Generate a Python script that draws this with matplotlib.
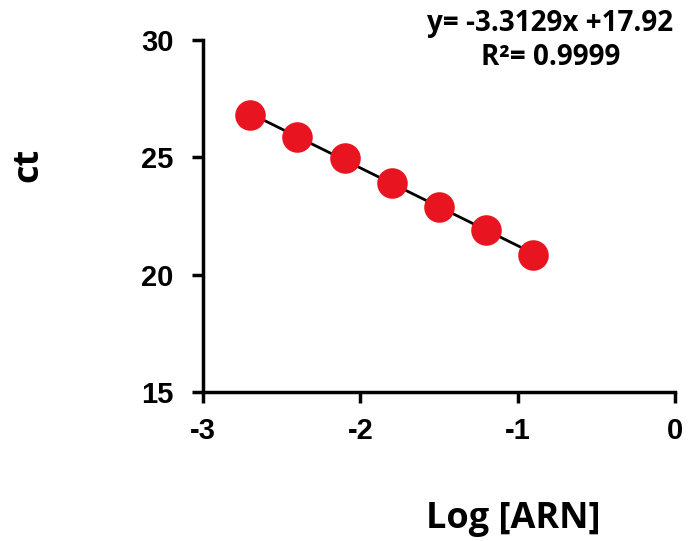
import matplotlib
matplotlib.use('Agg')
import matplotlib.pyplot as plt
import numpy as np

# data
log_arn = [-2.7, -2.4, -2.1, -1.8, -1.5, -1.2, -0.9]
ct = [26.8, 25.85, 24.95, 23.9, 22.9, 21.9, 20.85]
slope = -3.3129
intercept = 17.92
xticks = [-3, -2, -1, 0]
yticks = [15, 20, 25, 30]

fig = plt.figure(figsize=(6.88, 5.41), dpi=100)
ax = fig.add_axes([0.295, 0.2754, 0.686, 0.651])

xs = np.array(log_arn)
ax.plot(xs, slope * xs + intercept, color='black', lw=2, zorder=2)
ax.plot(log_arn, ct, 'o', color='#e8141f', markersize=22, markeredgewidth=0, zorder=3,
        clip_on=False)

ax.set_xlim(-3, 0)
ax.set_ylim(15, 30)
ax.set_xticks(xticks)
ax.set_yticks(yticks)
ax.set_xticklabels([str(t) for t in xticks], fontfamily='Liberation Sans', fontweight='bold', fontsize=21)
ax.set_yticklabels([str(t) for t in yticks], fontfamily='Liberation Sans', fontweight='bold', fontsize=21)
ax.tick_params(width=2.5, length=8)
ax.tick_params(axis='x', pad=10)
ax.tick_params(axis='y', pad=13)

for s in ['top', 'right']:
    ax.spines[s].set_visible(False)
for s in ['left', 'bottom']:
    ax.spines[s].set_linewidth(2.5)

fig.text(0.041, 0.695, 'ct', rotation=90, ha='center', va='center',
         fontfamily='Open Sans', fontweight='bold', fontsize=26)
fig.text(0.746, 0.04, 'Log [ARN]', ha='center', va='center',
         fontfamily='Open Sans', fontweight='bold', fontsize=26)
fig.text(0.80, 0.957, 'y= -3.3129x +17.92', ha='center', va='center',
         fontfamily='Open Sans', fontweight='bold', fontsize=20)
fig.text(0.80, 0.893, 'R²= 0.9999', ha='center', va='center',
         fontfamily='Open Sans', fontweight='bold', fontsize=20)

fig.savefig('out.png', dpi=100)
